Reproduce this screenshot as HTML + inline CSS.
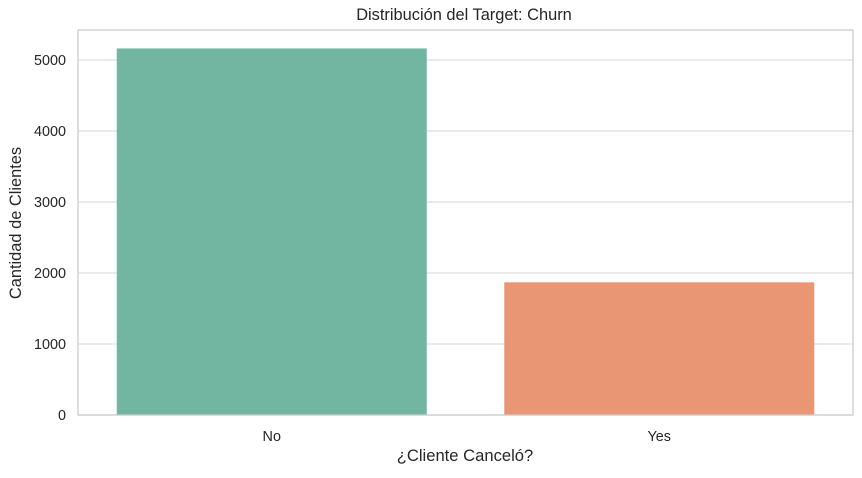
<!DOCTYPE html>
<html><head><meta charset="utf-8"><style>
body{margin:0;background:#fff;font-family:"Liberation Sans","DejaVu Sans",sans-serif}
</style></head><body>
<svg id="chart" width="862" height="473" xmlns="http://www.w3.org/2000/svg" font-family="Liberation Sans, DejaVu Sans, sans-serif">
<text x="464" y="20" text-anchor="middle" font-size="16.4" fill="#262626">Distribución del Target: Churn</text>
<text x="465" y="461" text-anchor="middle" font-size="16.6" fill="#262626">¿Cliente Canceló?</text>
<text transform="translate(21,223) rotate(-90)" text-anchor="middle" font-size="16.4" fill="#262626">Cantidad de Clientes</text>
<g id="grid"></g><g id="bars"></g><g id="ticks"></g>
<rect x="78" y="30" width="775" height="385" fill="none" stroke="#ccc" stroke-width="1.3"/>
</svg>
<script>
const categories=["No","Yes"];
const counts=[5163,1869];
const colors=["#72b6a1","#e99675"];
const yTicks=[0,1000,2000,3000,4000,5000];
const X0=78,X1=853,Y0=415,PX_PER=355/5000;
const ns="http://www.w3.org/2000/svg";
function y(v){return Y0-v*PX_PER;}
function xc(i){return X0+(i+0.5)*(X1-X0)/categories.length;}
const bw=0.8*(X1-X0)/categories.length;
const grid=document.getElementById('grid'),bars=document.getElementById('bars'),ticks=document.getElementById('ticks');
yTicks.forEach(t=>{
 const l=document.createElementNS(ns,'line');
 
 
 l.setAttribute('x1',X0);l.setAttribute('x2',X1);l.setAttribute('y1',y(t));l.setAttribute('y2',y(t));
 l.setAttribute('stroke','#ddd');l.setAttribute('stroke-width','1.2');grid.appendChild(l);
 const tx=document.createElementNS(ns,'text');
 
 
 tx.setAttribute('x',X0-12);tx.setAttribute('y',y(t)+5);tx.setAttribute('text-anchor','end');
 tx.setAttribute('font-size','14.4');tx.setAttribute('fill','#262626');tx.textContent=t;ticks.appendChild(tx);
});
categories.forEach((c,i)=>{
 const r=document.createElementNS(ns,'rect');
 
 
 r.setAttribute('x',xc(i)-bw/2);r.setAttribute('width',bw);
 r.setAttribute('y',y(counts[i]));r.setAttribute('height',Y0-y(counts[i]));
 r.setAttribute('fill',colors[i]);bars.appendChild(r);
 const tx=document.createElementNS(ns,'text');
 
 
 tx.setAttribute('x',xc(i));tx.setAttribute('y',441);tx.setAttribute('text-anchor','middle');
 tx.setAttribute('font-size','14.4');tx.setAttribute('fill','#262626');tx.textContent=c;ticks.appendChild(tx);
});
</script>
</body></html>
